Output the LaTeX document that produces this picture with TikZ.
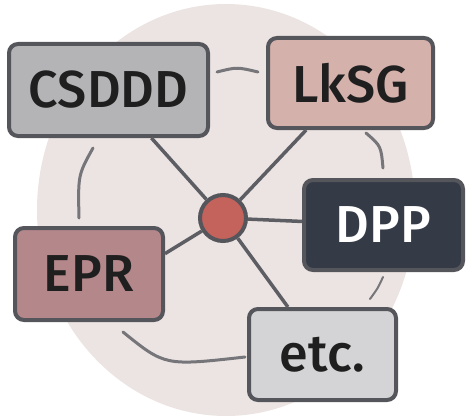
\documentclass[tikz,border=0pt]{standalone}
\usepackage{fontspec}
\setmainfont{Fira Sans}[BoldFont={Fira Sans Medium}]
\usetikzlibrary{positioning}
\definecolor{bgdisc}{HTML}{ECE4E2}
\definecolor{edgegray}{HTML}{55555C}
\definecolor{ringgray}{HTML}{75757A}
\definecolor{csdddfill}{HTML}{B4B4B7}
\definecolor{lksgfill}{HTML}{D5B1AC}
\definecolor{dppfill}{HTML}{343B47}
\definecolor{eprfill}{HTML}{B4878B}
\definecolor{etcfill}{HTML}{D4D4D6}
\definecolor{hubfill}{HTML}{C4625C}
\tikzset{
    law/.style={draw=edgegray,line width=4pt,rounded corners=9pt,
        inner sep=0pt,font=\fontsize{52}{58}\selectfont\bfseries,text=black!88},
    hub/.style={circle,draw=edgegray,fill=hubfill,line width=4pt,
        minimum size=46pt,inner sep=0pt},
    link/.style={draw=edgegray!95,line width=3.5pt},
    ring/.style={draw=ringgray,line width=3pt,line cap=round}
}

\begin{document}
\begin{tikzpicture}[x=1pt,y=-1pt]
    \useasboundingbox (0,0) rectangle (469,420);
    \fill[bgdisc] (226,210) ellipse [x radius=189, y radius=206];

    % ring pieces
    \coordinate (r1) at (217,72);   \coordinate (r2) at (258,72);
    \coordinate (r3) at (93,148);   \coordinate (r4) at (79,218);
    \coordinate (r5) at (366,133);  \coordinate (r6) at (383,168);
    \coordinate (r7) at (383,277);  \coordinate (r8) at (370,299);
    \coordinate (r9) at (123,332);  \coordinate (r10) at (245,357);
    \draw[ring] (r1) .. controls (237,67) .. (r2);
    \draw[ring] (r3) .. controls (78,175) .. (r4);
    \draw[ring] (r5) .. controls (381,146) .. (r6);
    \draw[ring,line width=2pt] (r7) .. controls (378,288) .. (r8);
    \draw[ring] (r9) .. controls (165,366) .. (r10);

    \node[hub]                                                          (hub)    at (223,218) {};
    \node[law,fill=csdddfill,minimum width=199pt,minimum height=92pt]   (csddd)  at (108.5,90) {CSDDD};
    \node[law,fill=lksgfill,minimum width=165pt,minimum height=90pt]    (lksg)   at (350.5,83) {LkSG};
    \node[law,fill=dppfill,text=white,minimum width=159pt,minimum height=90pt] (dpp) at (383.5,225) {DPP};
    \node[law,fill=eprfill,minimum width=148pt,minimum height=92pt]     (epr)    at (89,274) {EPR};
    \node[law,fill=etcfill,minimum width=147pt,minimum height=91pt]     (etc)    at (322.5,354.5) {etc.};

    \draw[link] (hub) -- (csddd);
    \draw[link] (hub) -- (lksg);
    \draw[link] (hub) -- (dpp);
    \draw[link] (hub) -- (epr.15);
    \draw[link] (hub) -- (etc);
\end{tikzpicture}
\end{document}
